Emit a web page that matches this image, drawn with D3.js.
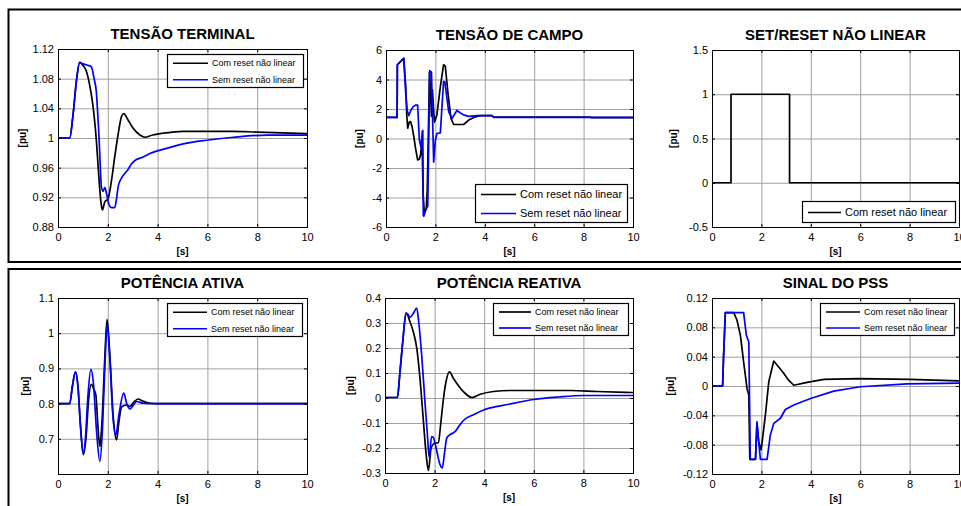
<!DOCTYPE html>
<html>
<head>
<meta charset="utf-8">
<script src="https://cdn.jsdelivr.net/npm/d3@7"></script>
<style>
  body { margin: 0; background: #fff; }
  svg { display: block; font-family: "Liberation Sans", Arial, sans-serif; }
</style>
</head>
<body>
<div id="chart"></div>
<script>
// Time axis shared by all panels
const xTicks = [0, 2, 4, 6, 8, 10];
const seriesNames = ["Com reset não linear", "Sem reset não linear"];

// TENSÃO TERMINAL
const terminalTicks = [0.88, 0.92, 0.96, 1, 1.04, 1.08, 1.12];
const terminalCom = [[0,1],[0.47,1],[0.6,1.03],[0.75,1.08],[0.87,1.102],[1.0,1.098],[1.14,1.09],[1.28,1.07],[1.41,1.042],[1.54,0.997],[1.65,0.943],[1.72,0.915],[1.78,0.903],[1.88,0.914],[2.01,0.918],[2.15,0.943],[2.28,0.975],[2.42,1.006],[2.55,1.029],[2.64,1.033],[2.82,1.024],[3.02,1.013],[3.29,1.004],[3.49,1.001],[3.8,1.004],[4.1,1.006],[4.6,1.008],[5,1.009],[6,1.009],[7,1.009],[8,1.008],[9,1.007],[10,1.006]];
const terminalSem = [[0,1],[0.47,1],[0.6,1.03],[0.75,1.08],[0.87,1.102],[1.0,1.1],[1.2,1.098],[1.34,1.096],[1.45,1.08],[1.54,1.062],[1.6,1.03],[1.65,1.0],[1.7,0.96],[1.74,0.935],[1.81,0.928],[1.88,0.933],[1.95,0.925],[2.05,0.91],[2.15,0.906],[2.28,0.906],[2.35,0.918],[2.42,0.935],[2.55,0.946],[2.68,0.952],[2.82,0.958],[2.95,0.965],[3.15,0.971],[3.4,0.974],[3.69,0.979],[4.36,0.986],[5.03,0.992],[5.97,0.997],[7.05,1.001],[8.39,1.004],[10,1.004]];

// TENSÃO DE CAMPO
const campoTicks = [-6, -4, -2, 0, 2, 4, 6];
const campoCom = [[0,1.43],[0.45,1.43],[0.46,5.0],[0.72,5.43],[0.8,3.5],[0.84,1.6],[0.88,0.7],[0.94,1.1],[0.99,1.15],[1.05,0.85],[1.12,0.2],[1.19,-0.6],[1.28,-1.45],[1.35,-1.4],[1.4,-1.1],[1.46,-0.1],[1.5,-3.7],[1.55,-5.0],[1.63,-4.75],[1.67,-3.5],[1.7,-1.0],[1.76,4.5],[1.8,3.3],[1.84,1.5],[1.88,3.3],[1.96,1.1],[2.06,1.6],[2.2,3.5],[2.33,5.0],[2.4,4.9],[2.51,3.06],[2.63,1.36],[2.74,0.95],[3.14,0.95],[3.35,1.25],[3.62,1.47],[3.82,1.55],[4.29,1.55],[4.36,1.45],[8.27,1.45],[8.3,1.41],[10,1.41]];
const campoSem = [[0,1.43],[0.45,1.43],[0.46,5.0],[0.72,5.43],[0.8,3.0],[0.86,1.9],[0.92,1.55],[1.0,1.9],[1.1,2.15],[1.19,2.26],[1.28,2.26],[1.35,-0.1],[1.42,-0.6],[1.47,0.5],[1.49,0.55],[1.51,-5.2],[1.53,-5.27],[1.63,-4.75],[1.69,-4.6],[1.77,4.6],[1.84,4.5],[1.93,-1.6],[2.0,-0.1],[2.06,0.34],[2.2,0.38],[2.33,3.85],[2.38,3.85],[2.54,1.8],[2.67,1.36],[2.87,1.9],[3.0,1.75],[3.14,1.6],[3.35,1.5],[3.68,1.55],[4.29,1.55],[4.36,1.43],[10,1.43]];

// SET/RESET NÃO LINEAR
const resetTicks = [-0.5, 0, 0.5, 1, 1.5];
const resetCom = [[0,0],[0.77,0],[0.77,1],[3.14,1],[3.14,0],[10,0]];

// POTÊNCIA ATIVA
const ativaTicks = [0.7, 0.8, 0.9, 1, 1.1];
const ativaCom = [[0,0.8],[0.47,0.8],[0.58,0.85],[0.7,0.89],[0.8,0.85],[0.9,0.74],[1.02,0.655],[1.12,0.7],[1.24,0.82],[1.34,0.855],[1.44,0.84],[1.52,0.825],[1.6,0.74],[1.68,0.678],[1.76,0.74],[1.88,0.93],[1.97,1.039],[2.08,0.94],[2.22,0.76],[2.35,0.697],[2.45,0.75],[2.55,0.79],[2.75,0.796],[2.89,0.792],[3.05,0.805],[3.22,0.813],[3.4,0.807],[3.56,0.803],[3.9,0.8],[10,0.8]];
const ativaSem = [[0,0.8],[0.47,0.8],[0.58,0.85],[0.7,0.89],[0.8,0.85],[0.9,0.74],[1.01,0.658],[1.1,0.7],[1.2,0.82],[1.32,0.897],[1.42,0.86],[1.55,0.72],[1.68,0.636],[1.78,0.72],[1.88,0.9],[1.97,1.025],[2.08,0.93],[2.2,0.77],[2.32,0.71],[2.45,0.77],[2.64,0.83],[2.76,0.8],[2.89,0.785],[3.02,0.795],[3.15,0.806],[3.42,0.801],[3.7,0.8],[4.2,0.8],[10,0.8]];

// POTÊNCIA REATIVA
const reativaTicks = [-0.3, -0.2, -0.1, 0, 0.1, 0.2, 0.3, 0.4];
const reativaCom = [[0,0.002],[0.5,0.002],[0.6,0.1],[0.72,0.23],[0.85,0.34],[1.01,0.304],[1.14,0.265],[1.28,0.2],[1.41,0.079],[1.55,-0.094],[1.66,-0.227],[1.75,-0.29],[1.86,-0.2],[2.02,-0.18],[2.15,-0.18],[2.25,-0.1],[2.36,0.0],[2.47,0.07],[2.6,0.105],[2.75,0.08],[2.89,0.059],[3.23,0.019],[3.5,0.002],[3.84,0.015],[4.37,0.026],[5.05,0.03],[7.5,0.03],[8.55,0.026],[10,0.022]];
const reativaSem = [[0,0.002],[0.5,0.002],[0.6,0.1],[0.72,0.23],[0.85,0.34],[0.93,0.335],[1.01,0.322],[1.15,0.34],[1.28,0.36],[1.36,0.304],[1.48,0.17],[1.62,-0.028],[1.71,-0.147],[1.78,-0.237],[1.88,-0.154],[1.95,-0.158],[2.06,-0.2],[2.22,-0.267],[2.31,-0.28],[2.4,-0.22],[2.49,-0.16],[2.62,-0.147],[2.83,-0.134],[3.0,-0.11],[3.16,-0.09],[3.57,-0.067],[4.0,-0.047],[5,-0.025],[6,-0.006],[7,0.004],[8,0.01],[10,0.01]];

// SINAL DO PSS
const pssTicks = [-0.12, -0.08, -0.04, 0, 0.04, 0.08, 0.12];
const pssCom = [[0,0],[0.43,0],[0.47,0.042],[0.54,0.1],[0.88,0.1],[1.01,0.09],[1.15,0.069],[1.28,0.033],[1.42,-0.004],[1.49,-0.012],[1.53,-0.1],[1.76,-0.1],[1.82,-0.051],[1.89,-0.076],[1.99,-0.087],[2.16,-0.04],[2.3,0.006],[2.5,0.034],[2.7,0.026],[2.91,0.017],[3.1,0.008],[3.31,0.001],[3.85,0.005],[4.53,0.009],[6,0.01],[8,0.009],[8.99,0.008],[10,0.007]];
const pssSem = [[0,0],[0.43,0],[0.47,0.042],[0.54,0.1],[1.28,0.1],[1.39,0.069],[1.49,0.06],[1.55,-0.1],[1.76,-0.1],[1.82,-0.049],[1.89,-0.076],[1.96,-0.1],[2.23,-0.1],[2.36,-0.067],[2.5,-0.051],[2.77,-0.044],[2.97,-0.032],[3.31,-0.026],[3.99,-0.017],[4.93,-0.007],[6.01,-0.001],[7.9,0.003],[10,0.004]];

const W = 961, H = 506;
const svg = d3.select("#chart").append("svg").attr("width", W).attr("height", H);

// outer frames of the two rows
svg.append("rect").attr("x", 8.5).attr("y", 9.5).attr("width", 970).attr("height", 252.5)
  .attr("fill", "none").attr("stroke", "#000").attr("stroke-width", 2);
svg.append("rect").attr("x", 8.5).attr("y", 269).attr("width", 970).attr("height", 260)
  .attr("fill", "none").attr("stroke", "#000").attr("stroke-width", 2);

const fmt = d => String(+d.toFixed(3));

const panels = [
  { title: "TENSÃO TERMINAL", box: [58, 49, 307, 227], y: [0.88, 1.12], ticks: terminalTicks,
    series: [terminalCom, terminalSem], curve: d3.curveMonotoneX, pu: 22,
    legend: { x: 167, y: 54, w: 136, h: 33, fs: 9, line: 35 } },
  { title: "TENSÃO DE CAMPO", box: [386, 50, 633, 227], y: [-6, 6], ticks: campoTicks,
    series: [campoCom, campoSem], curve: d3.curveLinear, pu: 359,
    legend: { x: 475, y: 184, w: 152, h: 38, fs: 11, line: 35 } },
  { title: "SET/RESET NÃO LINEAR", box: [712, 50, 959, 227], y: [-0.5, 1.5], ticks: resetTicks,
    series: [resetCom], curve: d3.curveLinear, pu: 673,
    legend: { x: 802, y: 201, w: 153, h: 21, fs: 11, line: 33 } },
  { title: "POTÊNCIA ATIVA", box: [58, 298, 307, 474], y: [0.6, 1.1], ticks: ativaTicks,
    series: [ativaCom, ativaSem], curve: d3.curveMonotoneX, pu: 25,
    legend: { x: 167, y: 303, w: 135, h: 33, fs: 9, line: 34 } },
  { title: "POTÊNCIA REATIVA", box: [385, 298, 633, 473], y: [-0.3, 0.4], ticks: reativaTicks,
    series: [reativaCom, reativaSem], curve: d3.curveMonotoneX, pu: 350,
    legend: { x: 493, y: 303, w: 135, h: 32, fs: 9, line: 32 } },
  { title: "SINAL DO PSS", box: [712, 298, 959, 474], y: [-0.12, 0.12], ticks: pssTicks,
    series: [pssCom, pssSem], curve: d3.curveLinear, pu: 670,
    legend: { x: 820, y: 303, w: 134, h: 32, fs: 9, line: 34 } }
];

const colors = ["#000000", "#0000ff"];

panels.forEach(p => {
  const [l, t, r, b] = p.box;
  const x = d3.scaleLinear().domain([0, 10]).range([l, r]);
  const y = d3.scaleLinear().domain(p.y).range([b, t]);
  const g = svg.append("g");

  g.append("rect").attr("x", l).attr("y", t).attr("width", r - l).attr("height", b - t).attr("fill", "#fff");

  // grid
  g.append("g").attr("transform", `translate(0,${b})`)
    .call(d3.axisBottom(x).tickValues(xTicks).tickSize(-(b - t)).tickFormat(""))
    .call(s => s.select(".domain").remove())
    .selectAll("line").attr("stroke", "#a0a0a0");
  g.append("g").attr("transform", `translate(${l},0)`)
    .call(d3.axisLeft(y).tickValues(p.ticks).tickSize(-(r - l)).tickFormat(""))
    .call(s => s.select(".domain").remove())
    .selectAll("line").attr("stroke", "#a0a0a0");

  // data lines
  const line = d3.line().x(d => x(d[0])).y(d => y(d[1])).curve(p.curve);
  const clipId = "clip" + l + "_" + t;
  svg.append("clipPath").attr("id", clipId).append("rect")
    .attr("x", l).attr("y", t).attr("width", r - l).attr("height", b - t);
  p.series.forEach((s, i) => {
    g.append("path").datum(s).attr("d", line).attr("fill", "none")
      .attr("stroke", colors[i]).attr("stroke-width", 1.7)
      .attr("stroke-linejoin", "round").attr("clip-path", `url(#${clipId})`);
  });

  // axes with inward ticks
  g.append("g").attr("transform", `translate(0,${b})`)
    .call(d3.axisBottom(x).tickValues(xTicks).tickSize(-3).tickPadding(6).tickFormat(fmt));
  g.append("g").attr("transform", `translate(0,${t})`)
    .call(d3.axisTop(x).tickValues(xTicks).tickSize(-3).tickFormat(""));
  g.append("g").attr("transform", `translate(${l},0)`)
    .call(d3.axisLeft(y).tickValues(p.ticks).tickSize(-3).tickPadding(4).tickFormat(fmt));
  g.append("g").attr("transform", `translate(${r},0)`)
    .call(d3.axisRight(y).tickValues(p.ticks).tickSize(-3).tickFormat(""));
  g.selectAll(".tick text").attr("font-size", 11).attr("font-family", "Liberation Sans, Arial, sans-serif").attr("fill", "#000");
  g.selectAll(".domain").attr("stroke", "#000");

  // title & labels
  g.append("text").attr("x", (l + r) / 2).attr("y", t - 10).attr("text-anchor", "middle")
    .attr("font-size", 15).attr("font-weight", "bold").text(p.title);
  g.append("text").attr("x", (l + r) / 2).attr("y", b + 28).attr("text-anchor", "middle")
    .attr("font-size", 10).attr("font-weight", "bold").text("[s]");
  g.append("text").attr("transform", `translate(${p.pu + 4},${(t + b) / 2}) rotate(-90)`)
    .attr("text-anchor", "middle").attr("font-size", 10).attr("font-weight", "bold").text("[pu]");

  // legend
  const lg = p.legend;
  g.append("rect").attr("x", lg.x + 0.5).attr("y", lg.y + 0.5).attr("width", lg.w).attr("height", lg.h)
    .attr("fill", "#fff").attr("stroke", "#000").attr("stroke-width", 1.2);
  const rowH = p.series.length > 1 ? lg.h / 2 : lg.h;
  p.series.forEach((s, i) => {
    const cy = lg.y + rowH * (i + 0.5) + 1;
    g.append("line").attr("x1", lg.x + 6).attr("x2", lg.x + 6 + lg.line)
      .attr("y1", cy).attr("y2", cy).attr("stroke", colors[i]).attr("stroke-width", 1.7);
    g.append("text").attr("x", lg.x + 10 + lg.line).attr("y", cy + lg.fs * 0.35)
      .attr("font-size", lg.fs).text(seriesNames[i]);
  });
});
</script>
</body>
</html>
